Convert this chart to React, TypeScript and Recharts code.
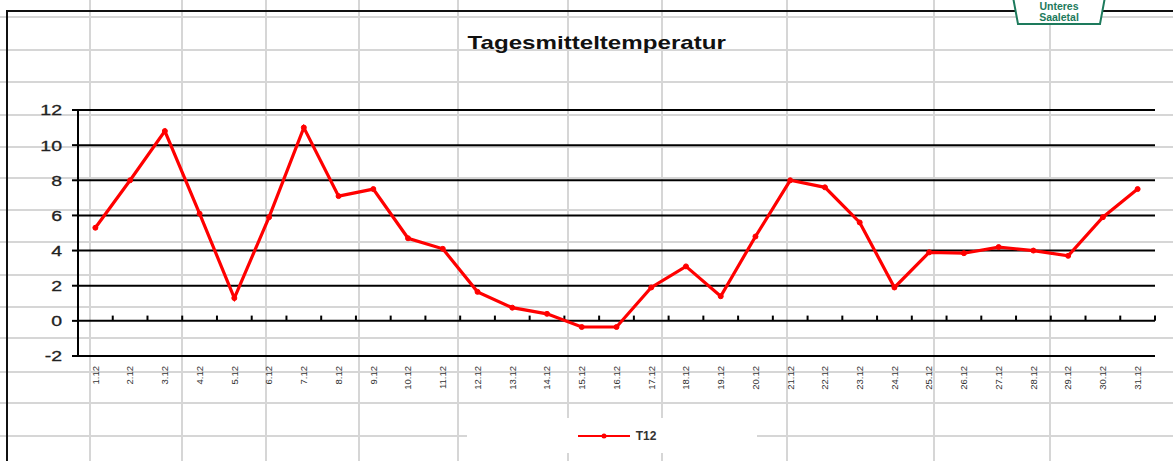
import React from "react";
import {
  LineChart, Line, XAxis, YAxis, CartesianGrid, Legend, ReferenceLine,
} from "recharts";

// December daily mean temperature (°C)
const days = [1, 2, 3, 4, 5, 6, 7, 8, 9, 10, 11, 12, 13, 14, 15, 16, 17, 18, 19, 20, 21, 22, 23, 24, 25, 26, 27, 28, 29, 30, 31];
const t12 = [5.3, 8.0, 10.8, 6.1, 1.3, 5.9, 11.0, 7.1, 7.5, 4.7, 4.1, 1.65, 0.75, 0.4, -0.35, -0.35, 1.9, 3.1, 1.4, 4.8, 8.0, 7.6, 5.6, 1.9, 3.9, 3.85, 4.2, 4.0, 3.7, 5.9, 7.5];
const yTicks = [-2, 0, 2, 4, 6, 8, 10, 12];
const monthSuffix = ".12";
const seriesName = "T12";
const title = "Tagesmitteltemperatur";

// spreadsheet background (column / row lines)
const sheetCols = [90, 182, 266, 359, 458, 568, 662, 787, 934, 1050];
const sheetRows = [17, 50, 82, 115, 147, 178, 210, 242, 275, 307, 338, 372, 403, 436];

const rows = days.map((d, i) => ({ day: d, T12: t12[i] }));
const boundaries = [...days.map((d) => d - 0.5), days[days.length - 1] + 0.5];

const FONT = 'Arial, "Liberation Sans", sans-serif';

const YTick = ({ x, y, payload }: any) => (
  <g transform={`translate(${x},${y}) scale(1.3,1)`}>
    <text x={0} y={0} dy="0.36em" textAnchor="end" fontSize={15} fill="#222" fontFamily={FONT} stroke="#222" strokeWidth={0.3}>
      {payload.value}
    </text>
  </g>
);

const XTick = ({ x, y, payload }: any) => (
  <text
    x={x}
    y={y}
    transform={`rotate(-90 ${x} ${y})`}
    textAnchor="end"
    dy="0.35em"
    fontSize={9.5}
    fill="#333"
    fontFamily={FONT}
  >
    {`${payload.value}${monthSuffix}`}
  </text>
);

const LegendBox = ({ payload }: any) => (
  <div style={{ background: "#fff", width: "100%", height: "100%", display: "flex", alignItems: "center", justifyContent: "center" }}>
    {(payload || []).map((p: any) => (
      <div key={p.value} style={{ display: "flex", alignItems: "center", marginLeft: 10 }}>
        <svg width={54} height={8}>
          <line x1={0} y1={4} x2={52} y2={4} stroke={p.color} strokeWidth={2} />
          <circle cx={26} cy={4} r={2.5} fill={p.color} />
        </svg>
        <span style={{ fontFamily: FONT, fontWeight: 700, fontSize: 12, color: "#333", marginLeft: 4 }}>{p.value}</span>
      </div>
    ))}
  </div>
);

export default function App() {
  return (
    <div style={{ position: "absolute", left: 0, top: 0, width: 1173, height: 461, overflow: "hidden", background: "#fff", fontFamily: FONT }}>
      {sheetCols.map((x) => (
        <div key={"c" + x} style={{ position: "absolute", left: x - 1, top: 0, width: 2, height: 461, background: "#d6d6d6" }} />
      ))}
      {sheetRows.map((y) => (
        <div key={"r" + y} style={{ position: "absolute", left: 0, top: y - 1, width: 1173, height: 2, background: "#d6d6d6" }} />
      ))}
      {/* chart area border */}
      <div style={{ position: "absolute", left: 6, top: 10, width: 1200, height: 500, borderLeft: "2px solid #111", borderTop: "2px solid #111" }} />

      <LineChart
        width={1173}
        height={461}
        data={rows}
        margin={{ top: 110, right: 18, left: 0, bottom: 65 }}
        style={{ position: "absolute", left: 0, top: 0 }}
      >
        <CartesianGrid horizontal vertical={false} stroke="#000" strokeWidth={2} />
        <XAxis
          dataKey="day"
          type="number"
          domain={[0.5, 31.5]}
          ticks={days}
          interval={0}
          axisLine={false}
          tickLine={false}
          tickSize={0}
          tickMargin={10}
          height={40}
          tick={<XTick />}
        />
        <YAxis
          domain={[-2, 12]}
          ticks={yTicks}
          width={78}
          axisLine={{ stroke: "#000", strokeWidth: 2 }}
          tickLine={{ stroke: "#000", strokeWidth: 2 }}
          tickSize={6}
          tickMargin={10}
          tick={<YTick />}
          allowDataOverflow
        />
        {boundaries.map((b) => (
          <ReferenceLine
            key={b}
            segment={[{ x: b, y: 0 }, { x: b, y: 0.3 }]}
            stroke="#000"
            strokeWidth={2}
          />
        ))}
        <Line
          dataKey="T12"
          name={seriesName}
          type="linear"
          stroke="#ff0000"
          strokeWidth={3.2}
          dot={{ r: 2.5, fill: "#ff0000", stroke: "#ff0000", strokeWidth: 1 }}
          isAnimationActive={false}
        />
        <Legend
          layout="horizontal"
          verticalAlign="middle"
          align="center"
          content={<LegendBox />}
          wrapperStyle={{ left: 467, top: 418, width: 290, height: 35 }}
        />
      </LineChart>

      {/* title */}
      <div style={{ position: "absolute", left: 0, width: 1173, top: 32, textAlign: "center", pointerEvents: "none" }}>
        <span style={{ display: "inline-block", fontWeight: 700, fontSize: 19, color: "#111", transform: "scaleX(1.27)", marginLeft: 20 }}>{title}</span>
      </div>

      {/* logo */}
      <svg width={96} height={30} style={{ position: "absolute", left: 1011, top: -3 }}>
        <polygon points="2,0 94,0 89,27 7,27" fill="#fff" stroke="#1d7a5c" strokeWidth={2} />
        <text x={48} y={13} textAnchor="middle" fontFamily={FONT} fontWeight={700} fontSize={10.5} fill="#1d7a5c">Unteres</text>
        <text x={48} y={23.5} textAnchor="middle" fontFamily={FONT} fontWeight={700} fontSize={10.5} fill="#1d7a5c">Saaletal</text>
      </svg>
    </div>
  );
}
